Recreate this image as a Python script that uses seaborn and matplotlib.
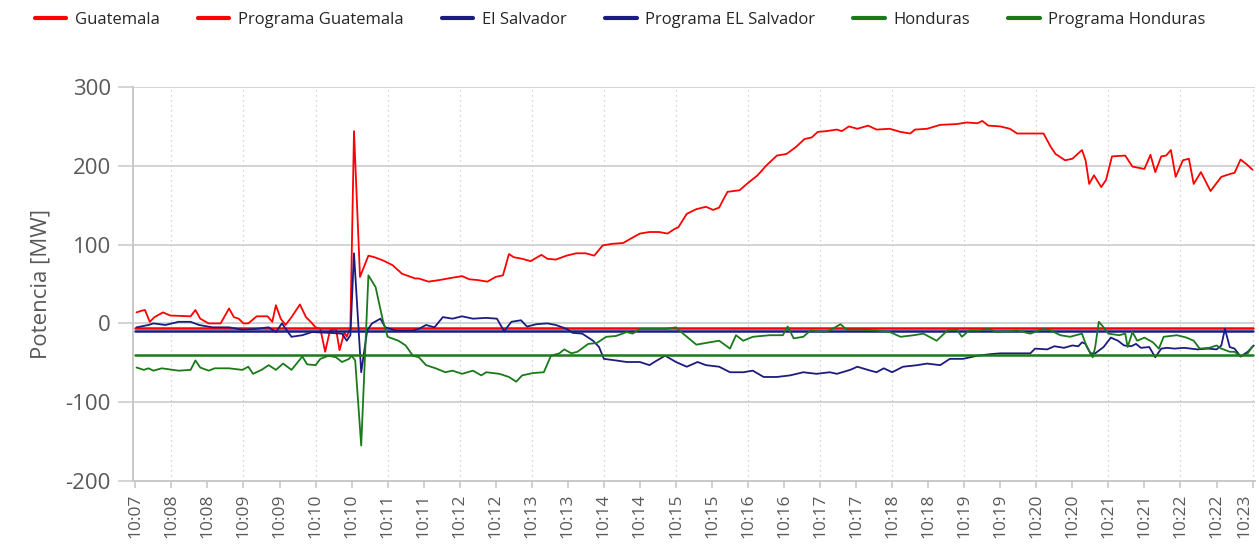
import matplotlib
matplotlib.use("Agg")
import matplotlib.pyplot as plt
import seaborn as sns
import pandas as pd
import numpy as np

# ---------------- data (seconds after 10:07:30, MW) ----------------
gt_time = [1, 5, 8, 12, 16, 23, 29, 46, 50, 54, 61, 71, 78, 82, 86, 90, 94, 101, 110, 114, 117, 121, 125,
           130, 137, 142, 146, 150, 154, 158, 162, 167, 170, 174, 176, 178, 179, 182, 187, 194, 199, 206,
           214, 222, 233, 236, 244, 253, 264, 272, 278, 285, 293, 300, 306, 311, 315, 322, 329, 338, 343,
           350, 359, 367, 375, 382, 389, 397, 406, 414, 420, 428, 436, 443, 449, 452, 459, 467, 475, 481,
           486, 489, 493, 503, 509, 518, 525, 534, 542, 550, 557, 563, 568, 575, 584, 588, 594, 601, 610,
           617, 628, 637, 645, 649, 659, 670, 684, 692, 701, 705, 710, 720, 728, 734, 745, 756, 762, 766,
           774, 780, 788, 791, 794, 798, 804, 808, 813, 824, 830, 840, 845, 849, 854, 858, 862, 866, 872,
           877, 881, 887, 895, 904, 912, 915, 920, 925, 930]
gt_value = [14, 16, 17, 2, 8, 14, 10, 9, 17, 6, 0, 0, 19, 8, 6, 0, 0, 9, 9, 2, 23, 6, -2,
            8, 24, 8, 2, -5, -7, -36, -9, -7, -34, -11, -17, -9, -5, 244, 59, 86, 84, 80,
            74, 63, 57, 57, 53, 55, 58, 60, 56, 55, 53, 59, 61, 88, 84, 82, 79, 87, 82,
            81, 86, 89, 89, 86, 99, 101, 102, 109, 114, 116, 116, 114, 120, 122, 139, 145, 148, 144,
            147, 156, 167, 169, 177, 188, 200, 213, 215, 224, 234, 236, 243, 244, 246, 244, 250, 247, 251,
            246, 247, 243, 241, 246, 247, 252, 253, 255, 254, 257, 251, 250, 247, 241, 241, 241, 224, 215,
            207, 209, 220, 207, 177, 188, 173, 182, 212, 213, 199, 196, 214, 192, 212, 213, 220, 186, 207,
            209, 177, 192, 168, 186, 190, 191, 208, 202, 195]

sv_time = [1, 11, 15, 25, 36, 46, 53, 64, 78, 89, 100, 111, 117, 122, 128, 130, 139, 147, 161, 172, 176,
           179, 182, 188, 193, 197, 204, 208, 217, 231, 236, 242, 249, 256, 264, 272, 281, 292, 301, 307,
           313, 321, 326, 334, 343, 350, 359, 364, 372, 381, 386, 390, 400, 409, 420, 428, 432, 441, 450,
           459, 468, 475, 486, 495, 506, 514, 523, 534, 545, 556, 567, 578, 584, 595, 601, 612, 617, 623,
           630, 639, 651, 659, 670, 678, 689, 701, 712, 720, 734, 745, 749, 759, 765, 773, 780, 785, 788,
           791, 795, 799, 806, 812, 818, 823, 829, 833, 837, 844, 849, 854, 859, 865, 873, 884, 893, 900,
           904, 907, 911, 915, 920, 926, 931]
sv_value = [-5, -2, 0, -2, 2, 2, -2, -5, -5, -8, -7, -5, -11, 0, -13, -17, -15, -11, -12, -13, -22,
            -15, 89, -62, -9, 0, 6, -5, -9, -9, -7, -2, -5, 8, 6, 9, 6, 7, 6, -10,
            2, 4, -4, -1, 0, -2, -7, -12, -13, -22, -30, -45, -47, -49, -49, -53, -49, -41, -49,
            -55, -49, -53, -55, -62, -62, -60, -68, -68, -66, -62, -64, -62, -64, -59, -55, -60, -62, -57,
            -62, -55, -53, -51, -53, -45, -45, -41, -39, -38, -38, -38, -32, -33, -29, -31, -28, -29, -24,
            -26, -38, -38, -30, -18, -22, -28, -29, -26, -31, -30, -43, -32, -31, -32, -31, -33, -32, -33,
            -28, -7, -30, -32, -42, -36, -28]

hn_time = [1, 7, 11, 15, 22, 36, 46, 50, 54, 61, 66, 78, 89, 94, 98, 105, 111, 117, 123, 130, 139, 143,
           150, 154, 161, 167, 172, 178, 180, 183, 188, 194, 200, 206, 210, 219, 225, 231, 236, 242, 250,
           258, 264, 272, 281, 288, 292, 303, 311, 317, 322, 331, 340, 346, 353, 357, 363, 368, 377, 384,
           392, 400, 409, 414, 420, 431, 442, 450, 456, 467, 478, 486, 495, 500, 506, 514, 528, 539, 543,
           548, 556, 562, 573, 578, 587, 592, 606, 617, 628, 637, 648, 656, 667, 676, 684, 688, 694, 703,
           710, 717, 728, 734, 745, 756, 762, 770, 778, 788, 792, 797, 799, 802, 806, 810, 819, 824, 826,
           830, 834, 840, 847, 852, 856, 867, 875, 881, 886, 894, 900, 904, 911, 915, 920, 926, 930]
hn_value = [-56, -59, -57, -60, -57, -60, -59, -47, -56, -60, -57, -57, -59, -55, -64, -59, -53, -59, -51, -59, -42, -52,
            -53, -45, -41, -43, -49, -45, -41, -47, -155, 61, 46, 4, -17, -22, -28, -41, -43, -53, -57,
            -62, -60, -64, -60, -66, -62, -64, -68, -74, -66, -63, -62, -41, -38, -33, -38, -36, -26, -25,
            -17, -16, -11, -13, -7, -7, -7, -5, -13, -27, -24, -22, -32, -15, -22, -17, -15, -15, -4,
            -19, -17, -9, -11, -9, -1, -8, -8, -9, -11, -17, -15, -13, -22, -9, -8, -17, -9, -9,
            -7, -11, -10, -9, -13, -7, -9, -15, -17, -13, -30, -43, -30, 2, -5, -13, -15, -13, -30,
            -11, -22, -18, -24, -32, -17, -15, -18, -22, -32, -31, -28, -32, -36, -36, -42, -38, -29]

prog_gt = -6
prog_sv = -10
prog_hn = -40

tick_seconds = list(range(0, 931, 30))
tick_labels = ["10:07", "10:08", "10:08", "10:09", "10:09", "10:10", "10:10", "10:11", "10:11",
               "10:12", "10:12", "10:13", "10:13", "10:14", "10:14", "10:15", "10:15", "10:16",
               "10:16", "10:17", "10:17", "10:18", "10:18", "10:19", "10:19", "10:20", "10:20",
               "10:21", "10:21", "10:22", "10:22", "10:23"]
minute_seconds = list(range(30, 931, 60))

series_names = ["Guatemala", "Programa Guatemala", "El Salvador", "Programa EL Salvador",
                "Honduras", "Programa Honduras"]

# ---------------- style ----------------
sns.set_theme(style="white")
plt.rcParams["font.family"] = ["Open Sans", "DejaVu Sans"]
plt.rcParams["axes.unicode_minus"] = False

RED = "#ff0000"
NAVY = "#1c1c80"
GREEN = "#1a7a1a"
GRID = "#d4d4d4"
TXT = "#595959"

fig = plt.figure(figsize=(12.59, 5.48), dpi=100)
ax = fig.add_axes([0.1056, 0.1223, 0.8912, 0.7189])

prog_x = [tick_seconds[0], tick_seconds[-1]]

sns.lineplot(x=gt_time, y=gt_value, ax=ax, color=RED, linewidth=1.3, label=series_names[0])
sns.lineplot(x=prog_x, y=[prog_gt, prog_gt], ax=ax, color=RED, linewidth=1.8, label=series_names[1])
sns.lineplot(x=sv_time, y=sv_value, ax=ax, color=NAVY, linewidth=1.3, label=series_names[2])
sns.lineplot(x=prog_x, y=[prog_sv, prog_sv], ax=ax, color=NAVY, linewidth=1.8, label=series_names[3])
sns.lineplot(x=hn_time, y=hn_value, ax=ax, color=GREEN, linewidth=1.3, label=series_names[4])
sns.lineplot(x=prog_x, y=[prog_hn, prog_hn], ax=ax, color=GREEN, linewidth=1.8, label=series_names[5])

ax.set_xlim(-2, 932)
ax.set_ylim(-200, 300)

# grid
ax.set_yticks([-200, -100, 0, 100, 200, 300])
for yv in [-100, 0, 100, 200, 300]:
    ax.axhline(yv, color=GRID, linewidth=1.4, zorder=0)
for xv in minute_seconds:
    ax.axvline(xv, color="#c8c8c8", linewidth=0.9, linestyle=(0, (1, 3)), zorder=0)

ax.set_xticks(tick_seconds)
ax.set_xticklabels(tick_labels, rotation=90, fontsize=12.5, color=TXT)
ax.tick_params(axis="x", direction="out", length=5, width=1.2, color="#c8c8c8", pad=4, bottom=True)
ax.tick_params(axis="y", direction="out", length=11, width=1.4, color=GRID, pad=5, labelsize=16,
               labelcolor=TXT, left=True)
# keep the last time label inside the canvas
ax.get_xticklabels()[-1].set_horizontalalignment("right")

for side in ["top", "right"]:
    ax.spines[side].set_visible(False)
for side in ["left", "bottom"]:
    ax.spines[side].set_color("#c8c8c8")
    ax.spines[side].set_linewidth(1.4)

ax.set_ylabel("Potencia [MW]", fontsize=16, color=TXT, labelpad=10)
ax.set_xlabel("")

handles, labels = ax.get_legend_handles_labels()
ax.get_legend().remove()
fig.legend(handles, labels, loc="center", bbox_to_anchor=(0.4925, 0.9635), ncol=6, frameon=False,
           fontsize=12, handlelength=1.9, handletextpad=0.5, columnspacing=2.3)
for h in fig.legends[0].legend_handles:
    h.set_linewidth(3)

fig.savefig("out.png", dpi=100)
